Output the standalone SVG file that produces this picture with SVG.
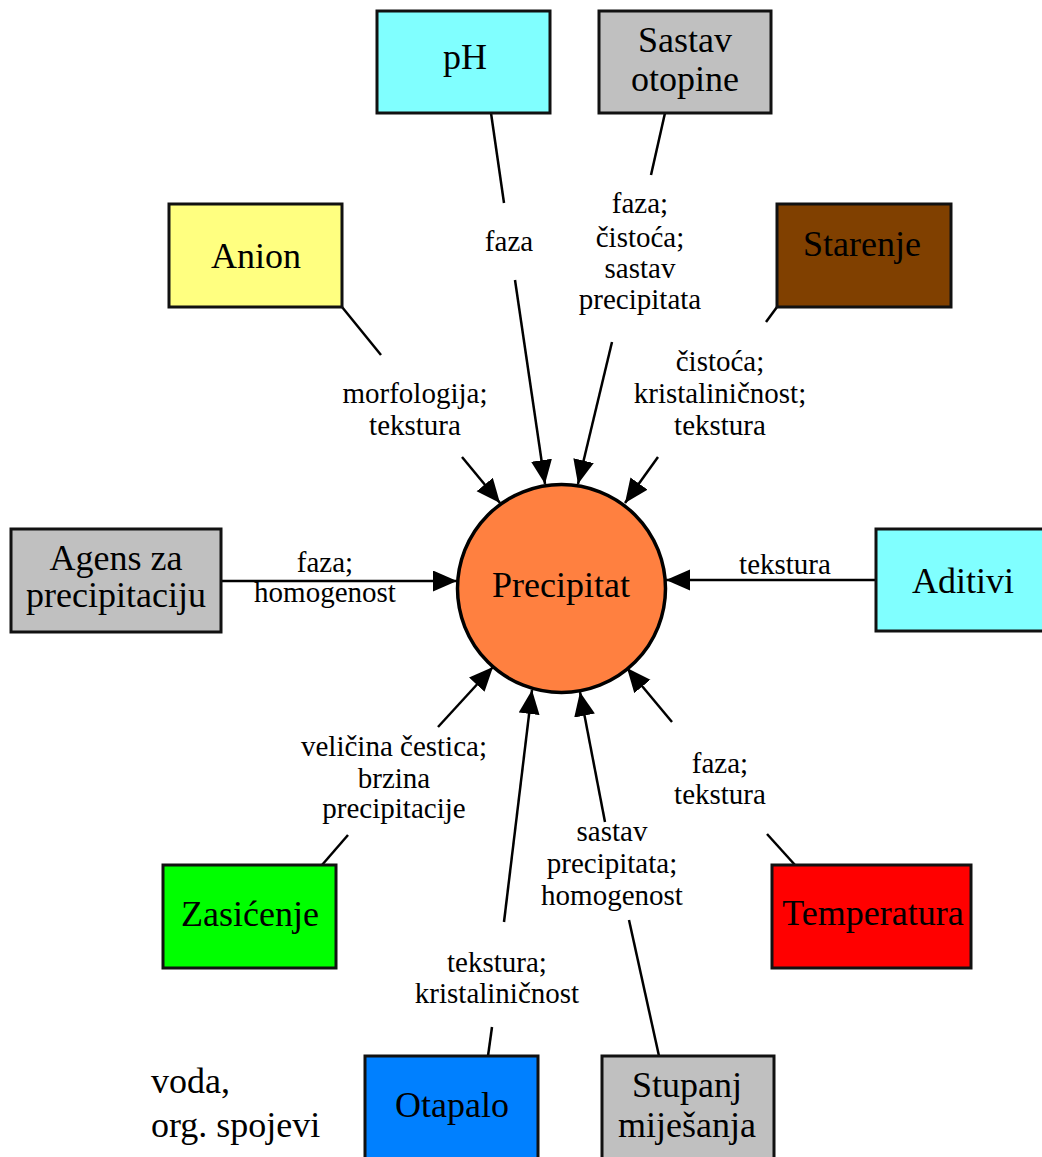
<svg xmlns="http://www.w3.org/2000/svg" width="1042" height="1157" viewBox="0 0 1042 1157">
  <style>
    .box { stroke: #111; stroke-width: 3; }
    .node { font-family: "Liberation Serif", "Times New Roman", serif; font-size: 36px; fill: #000; text-anchor: middle; }
    .lbl { font-family: "Liberation Serif", "Times New Roman", serif; font-size: 29px; fill: #000; text-anchor: middle; }
    .free { font-family: "Liberation Serif", "Times New Roman", serif; font-size: 36px; fill: #000; }
    .edge { stroke: #000; stroke-width: 2.5; fill: none; }
  </style>
  <defs>
    <marker id="arrow" markerUnits="userSpaceOnUse" markerWidth="26" markerHeight="22" refX="24" refY="10.5" orient="auto">
      <path d="M0,0 L24,10.5 L0,21 z" fill="#000"/>
    </marker>
  </defs>
  <rect width="1042" height="1157" fill="#fff"/>

  <!-- connectors: box side segment, then label gap, then arrow into the centre -->
  <g id="connectors">
    <line class="edge" x1="491" y1="113" x2="504" y2="203"/>
    <line class="edge" x1="515" y1="280" x2="545" y2="484" marker-end="url(#arrow)"/>

    <line class="edge" x1="665" y1="113" x2="651" y2="175"/>
    <line class="edge" x1="612" y1="342" x2="578" y2="484" marker-end="url(#arrow)"/>

    <line class="edge" x1="342" y1="307" x2="381" y2="355"/>
    <line class="edge" x1="462" y1="457" x2="500" y2="503" marker-end="url(#arrow)"/>

    <line class="edge" x1="777" y1="307" x2="766" y2="322"/>
    <line class="edge" x1="658" y1="457" x2="625" y2="503" marker-end="url(#arrow)"/>

    <line class="edge" x1="221" y1="581" x2="457" y2="581" marker-end="url(#arrow)"/>
    <line class="edge" x1="877" y1="580" x2="666" y2="580" marker-end="url(#arrow)"/>

    <line class="edge" x1="322" y1="865" x2="348" y2="835"/>
    <line class="edge" x1="438" y1="727" x2="493" y2="667" marker-end="url(#arrow)"/>

    <line class="edge" x1="488" y1="1056" x2="492" y2="1027"/>
    <line class="edge" x1="504" y1="922" x2="532" y2="690" marker-end="url(#arrow)"/>

    <line class="edge" x1="659" y1="1056" x2="629" y2="920"/>
    <line class="edge" x1="605" y1="822" x2="580" y2="692" marker-end="url(#arrow)"/>

    <line class="edge" x1="795" y1="865" x2="767" y2="834"/>
    <line class="edge" x1="672" y1="722" x2="627" y2="668" marker-end="url(#arrow)"/>
  </g>

  <!-- edge labels -->
  <g id="edge-labels">
    <text class="lbl" x="509" y="251">faza</text>
    <text class="lbl" x="640"><tspan x="640" y="213">faza;</tspan><tspan x="640" y="247">čistoća;</tspan><tspan x="640" y="278">sastav</tspan><tspan x="640" y="309">precipitata</tspan></text>
    <text class="lbl"><tspan x="415" y="403">morfologija;</tspan><tspan x="415" y="435">tekstura</tspan></text>
    <text class="lbl"><tspan x="720" y="371">čistoća;</tspan><tspan x="720" y="403">kristaliničnost;</tspan><tspan x="720" y="435">tekstura</tspan></text>
    <text class="lbl"><tspan x="325" y="572">faza;</tspan><tspan x="325" y="602">homogenost</tspan></text>
    <text class="lbl" x="785" y="574">tekstura</text>
    <text class="lbl"><tspan x="394" y="756">veličina čestica;</tspan><tspan x="394" y="788">brzina</tspan><tspan x="394" y="818">precipitacije</tspan></text>
    <text class="lbl"><tspan x="720" y="773">faza;</tspan><tspan x="720" y="804">tekstura</tspan></text>
    <text class="lbl"><tspan x="612" y="841">sastav</tspan><tspan x="612" y="873">precipitata;</tspan><tspan x="612" y="905">homogenost</tspan></text>
    <text class="lbl"><tspan x="497" y="972">tekstura;</tspan><tspan x="497" y="1003">kristaliničnost</tspan></text>
  </g>

  <g id="node-precipitat">
    <circle cx="561.5" cy="588.5" r="104" fill="#FF8040" stroke="#000" stroke-width="3.5"/>
    <text class="node" x="561" y="597">Precipitat</text>
  </g>
  <g id="node-ph">
    <rect class="box" x="377" y="11" width="173" height="102" fill="#80FFFF"/>
    <text class="node" x="465" y="69">pH</text>
  </g>
  <g id="node-sastav-otopine">
    <rect class="box" x="599" y="11" width="172" height="102" fill="#C0C0C0"/>
    <text class="node"><tspan x="685" y="52">Sastav</tspan><tspan x="685" y="91">otopine</tspan></text>
  </g>
  <g id="node-anion">
    <rect class="box" x="169" y="204" width="173" height="103" fill="#FFFF80"/>
    <text class="node" x="256" y="268">Anion</text>
  </g>
  <g id="node-starenje">
    <rect class="box" x="777" y="204" width="174" height="103" fill="#804000"/>
    <text class="node" x="862" y="256">Starenje</text>
  </g>
  <g id="node-agens">
    <rect class="box" x="11" y="529" width="210" height="103" fill="#C0C0C0"/>
    <text class="node"><tspan x="116" y="570">Agens za</tspan><tspan x="116" y="607">precipitaciju</tspan></text>
  </g>
  <g id="node-aditivi">
    <rect class="box" x="876" y="529" width="170" height="102" fill="#80FFFF"/>
    <text class="node" x="963" y="593">Aditivi</text>
  </g>
  <g id="node-zasicenje">
    <rect class="box" x="163" y="865" width="173" height="103" fill="#00FF00"/>
    <text class="node" x="250" y="926">Zasićenje</text>
  </g>
  <g id="node-temperatura">
    <rect class="box" x="772" y="865" width="199" height="103" fill="#FF0000"/>
    <text class="node" x="873" y="925">Temperatura</text>
  </g>
  <g id="node-otapalo">
    <rect class="box" x="365" y="1056" width="173" height="110" fill="#0080FF"/>
    <text class="node" x="452" y="1117">Otapalo</text>
  </g>
  <g id="node-stupanj">
    <rect class="box" x="602" y="1056" width="172" height="110" fill="#C0C0C0"/>
    <text class="node"><tspan x="687" y="1097">Stupanj</tspan><tspan x="687" y="1137">miješanja</tspan></text>
  </g>

  <!-- free note beside the solvent box -->
  <g id="note-otapalo">
    <text class="free"><tspan x="151" y="1093">voda,</tspan><tspan x="151" y="1137">org. spojevi</tspan></text>
  </g>
</svg>
